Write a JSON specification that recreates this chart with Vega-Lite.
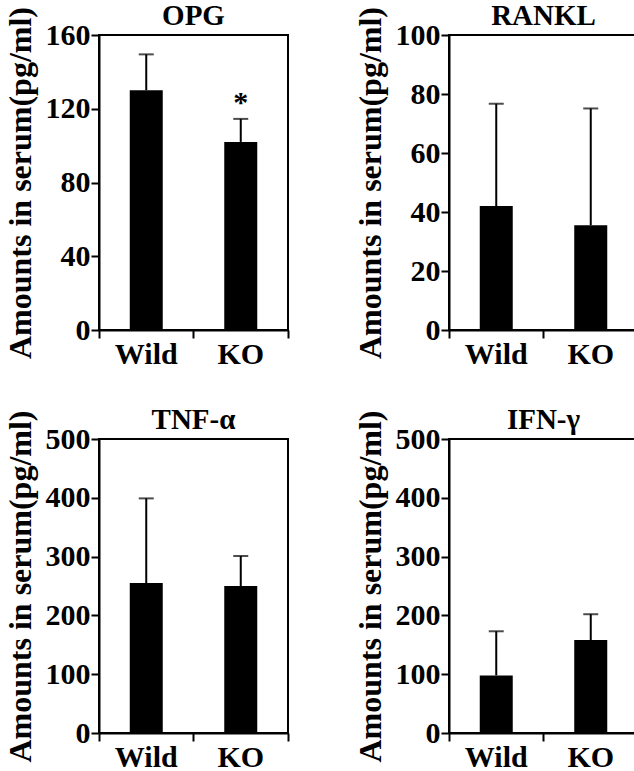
{
  "$schema": "https://vega.github.io/schema/vega-lite/v6.json",
  "padding": {"left": 2, "top": 1, "right": 2, "bottom": 0},
  "background": "white",
  "data": {"values": [
    {"panel": "OPG", "group": "Wild", "mean": 130, "upper": 149.5, "star": ""},
    {"panel": "OPG", "group": "KO", "mean": 102, "upper": 114.5, "star": "*"},
    {"panel": "RANKL", "group": "Wild", "mean": 42, "upper": 76.7, "star": ""},
    {"panel": "RANKL", "group": "KO", "mean": 35.5, "upper": 75.1, "star": ""},
    {"panel": "TNF", "group": "Wild", "mean": 255, "upper": 399, "star": ""},
    {"panel": "TNF", "group": "KO", "mean": 250, "upper": 301, "star": ""},
    {"panel": "IFN", "group": "Wild", "mean": 98, "upper": 173, "star": ""},
    {"panel": "IFN", "group": "KO", "mean": 158, "upper": 202, "star": ""}
  ]},
  "columns": 2,
  "spacing": {"column": 62, "row": 34},
  "concat": [
    {
      "title": "OPG",
      "width": 189, "height": 295,
      "transform": [{"filter": "datum.panel === 'OPG'"}],
      "encoding": {"x": {"field": "group", "type": "nominal", "sort": ["Wild", "KO"], "scale": {"paddingInner": 0, "paddingOuter": 0}, "axis": {"title": null, "labelAngle": 0, "bandPosition": 1, "tickExtra": true}}},
      "layer": [
        {"mark": {"type": "bar", "width": 33, "color": "black"}, "encoding": {"y": {"field": "mean", "type": "quantitative", "scale": {"domain": [0, 160]}, "axis": {"values": [0, 40, 80, 120, 160], "title": "Amounts in serum(pg/ml)"}}}},
        {"mark": {"type": "rule", "strokeWidth": 2, "color": "black"}, "encoding": {"y": {"field": "mean", "type": "quantitative"}, "y2": {"field": "upper"}}},
        {"mark": {"type": "tick", "size": 15, "thickness": 2, "color": "black"}, "encoding": {"y": {"field": "upper", "type": "quantitative"}}},
        {"mark": {"type": "text", "fontSize": 30, "fontWeight": "bold", "font": "Liberation Serif", "baseline": "middle", "color": "black"}, "encoding": {"y": {"field": "upper", "type": "quantitative"}, "yOffset": {"value": -16}, "text": {"field": "star"}}}
      ]
    },
    {
      "title": "RANKL",
      "width": 189, "height": 295,
      "transform": [{"filter": "datum.panel === 'RANKL'"}],
      "encoding": {"x": {"field": "group", "type": "nominal", "sort": ["Wild", "KO"], "scale": {"paddingInner": 0, "paddingOuter": 0}, "axis": {"title": null, "labelAngle": 0, "bandPosition": 1, "tickExtra": true}}},
      "layer": [
        {"mark": {"type": "bar", "width": 33, "color": "black"}, "encoding": {"y": {"field": "mean", "type": "quantitative", "scale": {"domain": [0, 100]}, "axis": {"values": [0, 20, 40, 60, 80, 100], "title": "Amounts in serum(pg/ml)"}}}},
        {"mark": {"type": "rule", "strokeWidth": 2, "color": "black"}, "encoding": {"y": {"field": "mean", "type": "quantitative"}, "y2": {"field": "upper"}}},
        {"mark": {"type": "tick", "size": 15, "thickness": 2, "color": "black"}, "encoding": {"y": {"field": "upper", "type": "quantitative"}}}
      ]
    },
    {
      "title": "TNF-α",
      "width": 189, "height": 294,
      "transform": [{"filter": "datum.panel === 'TNF'"}],
      "encoding": {"x": {"field": "group", "type": "nominal", "sort": ["Wild", "KO"], "scale": {"paddingInner": 0, "paddingOuter": 0}, "axis": {"title": null, "labelAngle": 0, "bandPosition": 1, "tickExtra": true}}},
      "layer": [
        {"mark": {"type": "bar", "width": 33, "color": "black"}, "encoding": {"y": {"field": "mean", "type": "quantitative", "scale": {"domain": [0, 500]}, "axis": {"values": [0, 100, 200, 300, 400, 500], "title": "Amounts in serum(pg/ml)"}}}},
        {"mark": {"type": "rule", "strokeWidth": 2, "color": "black"}, "encoding": {"y": {"field": "mean", "type": "quantitative"}, "y2": {"field": "upper"}}},
        {"mark": {"type": "tick", "size": 15, "thickness": 2, "color": "black"}, "encoding": {"y": {"field": "upper", "type": "quantitative"}}}
      ]
    },
    {
      "title": "IFN-γ",
      "width": 189, "height": 294,
      "transform": [{"filter": "datum.panel === 'IFN'"}],
      "encoding": {"x": {"field": "group", "type": "nominal", "sort": ["Wild", "KO"], "scale": {"paddingInner": 0, "paddingOuter": 0}, "axis": {"title": null, "labelAngle": 0, "bandPosition": 1, "tickExtra": true}}},
      "layer": [
        {"mark": {"type": "bar", "width": 33, "color": "black"}, "encoding": {"y": {"field": "mean", "type": "quantitative", "scale": {"domain": [0, 500]}, "axis": {"values": [0, 100, 200, 300, 400, 500], "title": "Amounts in serum(pg/ml)"}}}},
        {"mark": {"type": "rule", "strokeWidth": 2, "color": "black"}, "encoding": {"y": {"field": "mean", "type": "quantitative"}, "y2": {"field": "upper"}}},
        {"mark": {"type": "tick", "size": 15, "thickness": 2, "color": "black"}, "encoding": {"y": {"field": "upper", "type": "quantitative"}}}
      ]
    }
  ],
  "config": {
    "font": "Liberation Serif",
    "view": {"stroke": "black", "strokeWidth": 2},
    "axis": {
      "grid": false,
      "domainColor": "black", "domainWidth": 2,
      "tickColor": "black", "tickWidth": 2, "tickSize": 8,
      "labelColor": "black", "labelFont": "Liberation Serif", "labelFontWeight": "bold", "labelFontSize": 30, "labelPadding": 1,
      "titleColor": "black", "titleFont": "Liberation Serif", "titleFontWeight": "bold", "titleFontSize": 32, "titlePadding": 8
    },
    "title": {"font": "Liberation Serif", "fontSize": 29, "fontWeight": "bold", "color": "black", "frame": "group", "offset": -25}
  }
}
